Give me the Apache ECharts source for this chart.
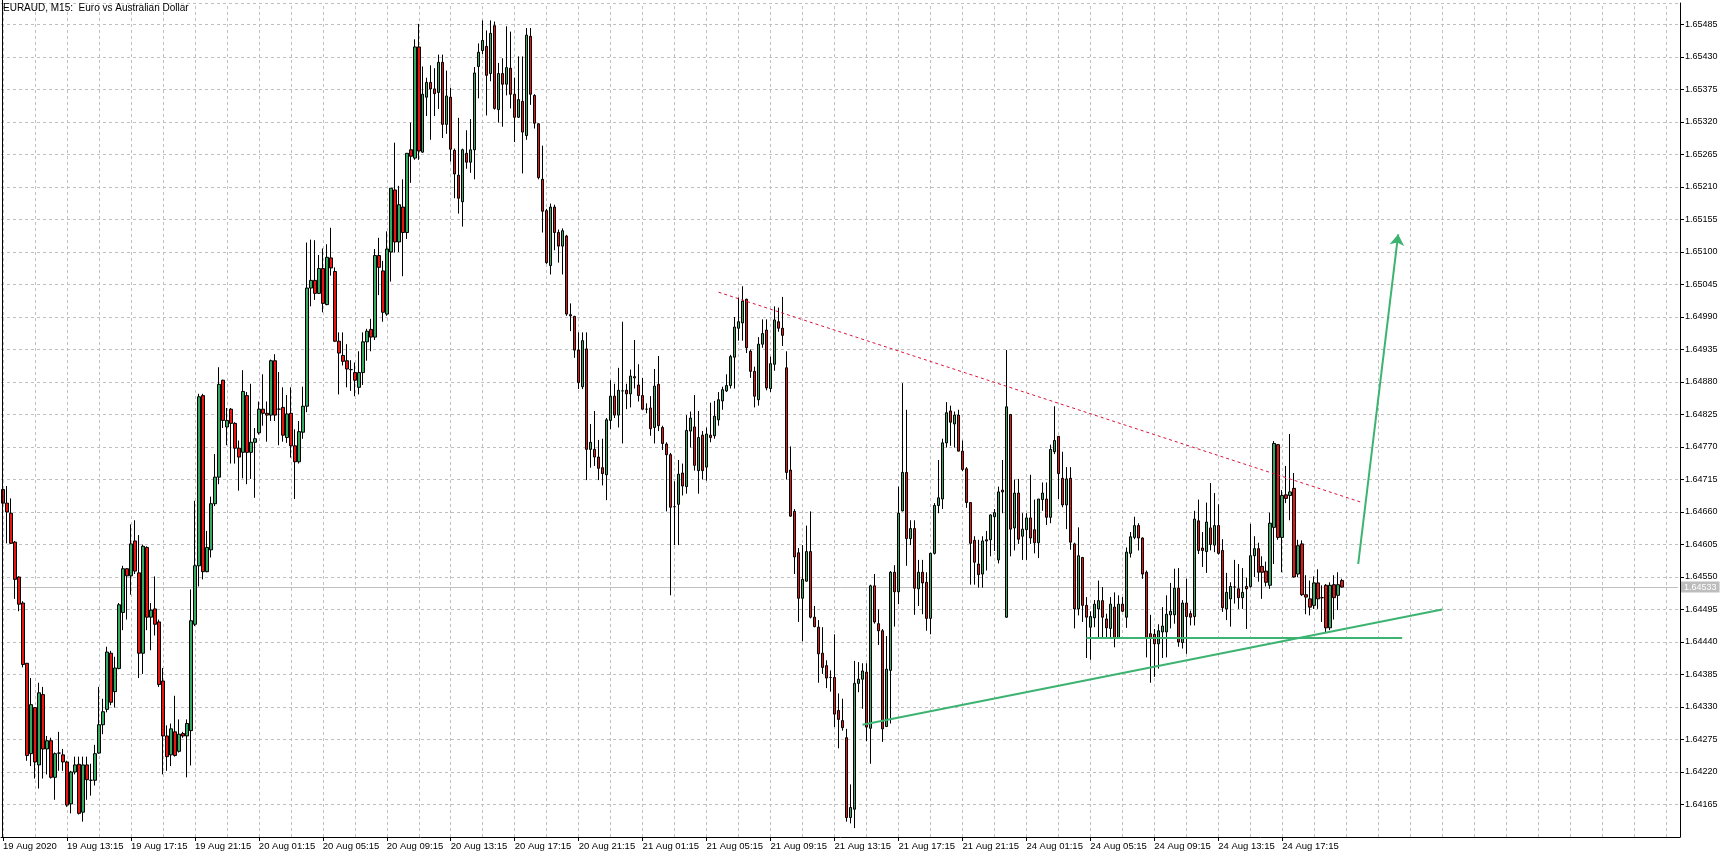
<!DOCTYPE html>
<html><head><meta charset="utf-8">
<script src="https://cdn.jsdelivr.net/npm/echarts@6/dist/echarts.min.js"></script>
<style>html,body{margin:0;padding:0;background:#fff;overflow:hidden}#c{width:1733px;height:858px}</style>
</head><body><div id="c"></div>
<script>
const opens = [
1.64698,1.64675,1.64658,1.64609,1.64550,1.64506,1.64404,1.64251,1.64329,1.64232,
1.64351,1.64259,1.64273,1.64211,1.64252,1.64249,1.64237,1.64166,1.64220,1.64233,
1.64152,1.64232,1.64206,1.64206,1.64252,1.64300,1.64326,1.64421,1.64356,1.64395,
1.64490,1.64564,1.64552,1.64611,1.64557,1.64421,1.64600,1.64482,1.64496,1.64474,
1.64374,1.64281,1.64249,1.64288,1.64255,1.64285,1.64281,1.64290,1.64470,1.64569,
1.64857,1.64559,1.64596,1.64674,1.64719,1.64883,1.64804,1.64834,1.64810,1.64768,
1.64761,1.64857,1.64761,1.64778,1.64794,1.64834,1.64827,1.64824,1.64916,1.64834,
1.64837,1.64786,1.64827,1.64772,1.64745,1.64795,1.64839,1.65039,1.65052,1.65030,
1.65072,1.65011,1.65090,1.65067,1.64949,1.64925,1.64916,1.64901,1.64896,1.64871,
1.64896,1.64948,1.64969,1.64956,1.65094,1.65068,1.64995,1.65100,1.65205,1.65117,
1.65176,1.65133,1.65273,1.65259,1.65447,1.65269,1.65362,1.65387,1.65376,1.65370,
1.65421,1.65316,1.65362,1.65272,1.65230,1.65185,1.65267,1.65252,1.65273,1.65414,
1.65441,1.65448,1.65402,1.65483,1.65341,1.65402,1.65384,1.65411,1.65367,1.65328,
1.65355,1.65297,1.65465,1.65365,1.65317,1.65223,1.65170,1.65077,1.65176,1.65133,
1.65110,1.65127,1.64994,1.64991,1.64934,1.64872,1.64936,1.64766,1.64766,1.64753,
1.64735,1.64723,1.64815,1.64856,1.64824,1.64865,1.64866,1.64860,1.64889,1.64875,
1.64857,1.64834,1.64836,1.64803,1.64876,1.64803,1.64775,1.64757,1.64669,1.64673,
1.64726,1.64703,1.64797,1.64804,1.64730,1.64790,1.64736,1.64790,1.64789,1.64816,
1.64848,1.64865,1.64874,1.64922,1.64971,1.64980,1.65020,1.64932,1.64898,1.64850,
1.64944,1.64968,1.64869,1.64910,1.64982,1.64971,1.64904,1.64731,1.64661,1.64591,
1.64514,1.64543,1.64593,1.64482,1.64465,1.64421,1.64400,1.64380,1.64380,1.64324,
1.64307,1.64278,1.64143,1.64157,1.64370,1.64377,1.64389,1.64294,1.64535,1.64471,
1.64459,1.64297,1.64392,1.64558,1.64525,1.64662,1.64727,1.64615,1.64632,1.64530,
1.64558,1.64541,1.64480,1.64590,1.64671,1.64682,1.64777,1.64831,1.64809,1.64824,
1.64763,1.64733,1.64676,1.64612,1.64572,1.64555,1.64611,1.64613,1.64652,1.64579,
1.64697,1.64482,1.64825,1.64633,1.64692,1.64619,1.64630,1.64650,1.64630,1.64608,
1.64681,1.64682,1.64651,1.64762,1.64788,1.64717,1.64672,1.64717,1.64606,1.64496,
1.64583,1.64502,1.64465,1.64481,1.64496,1.64510,1.64479,1.64463,1.64499,1.64447,
1.64504,1.64482,1.64590,1.64617,1.64637,1.64616,1.64558,1.64454,1.64453,1.64437,
1.64457,1.64457,1.64486,1.64486,1.64531,1.64439,1.64506,1.64488,1.64483,1.64645,
1.64599,1.64593,1.64633,1.64604,1.64637,1.64595,1.64496,1.64513,1.64533,1.64530,
1.64515,1.64534,1.64534,1.64586,1.64598,1.64568,1.64560,1.64536,1.64634,1.64774,
1.64617,1.64689,1.64688,1.64700,1.64555,1.64606,1.64520,1.64513,1.64502,1.64540,
1.64515,1.64536,1.64464,1.64537,1.64519,1.64544
];
const closes = [
1.64675,1.64660,1.64607,1.64546,1.64504,1.64402,1.64248,1.64334,1.64237,1.64354,
1.64259,1.64273,1.64211,1.64251,1.64252,1.64237,1.64164,1.64220,1.64232,1.64150,
1.64232,1.64207,1.64206,1.64251,1.64300,1.64322,1.64423,1.64338,1.64396,1.64503,
1.64564,1.64552,1.64606,1.64560,1.64421,1.64602,1.64482,1.64494,1.64470,1.64368,
1.64281,1.64246,1.64293,1.64248,1.64284,1.64281,1.64302,1.64476,1.64569,1.64855,
1.64559,1.64600,1.64674,1.64719,1.64876,1.64815,1.64815,1.64810,1.64768,1.64753,
1.64864,1.64761,1.64778,1.64784,1.64834,1.64827,1.64824,1.64916,1.64824,1.64834,
1.64790,1.64826,1.64772,1.64745,1.64796,1.64839,1.65039,1.65052,1.65030,1.65072,
1.65013,1.65091,1.65073,1.64949,1.64929,1.64915,1.64902,1.64901,1.64883,1.64896,
1.64948,1.64966,1.64956,1.65094,1.65074,1.64998,1.65105,1.65208,1.65117,1.65180,
1.65133,1.65267,1.65262,1.65447,1.65271,1.65367,1.65387,1.65376,1.65368,1.65421,
1.65316,1.65364,1.65274,1.65232,1.65191,1.65273,1.65252,1.65273,1.65403,1.65438,
1.65458,1.65399,1.65470,1.65343,1.65402,1.65384,1.65412,1.65367,1.65328,1.65358,
1.65303,1.65467,1.65367,1.65318,1.65226,1.65169,1.65082,1.65176,1.65133,1.65110,
1.65136,1.64995,1.64992,1.64934,1.64879,1.64950,1.64766,1.64778,1.64753,1.64734,
1.64725,1.64816,1.64856,1.64824,1.64866,1.64865,1.64860,1.64890,1.64887,1.64857,
1.64834,1.64834,1.64801,1.64873,1.64806,1.64776,1.64757,1.64668,1.64669,1.64724,
1.64704,1.64798,1.64819,1.64739,1.64786,1.64730,1.64792,1.64786,1.64822,1.64850,
1.64867,1.64874,1.64923,1.64973,1.64982,1.65017,1.64938,1.64898,1.64856,1.64944,
1.64962,1.64870,1.64911,1.64985,1.64971,1.64959,1.64727,1.64653,1.64584,1.64514,
1.64546,1.64593,1.64482,1.64466,1.64420,1.64397,1.64379,1.64380,1.64318,1.64309,
1.64295,1.64143,1.64160,1.64370,1.64377,1.64391,1.64296,1.64535,1.64474,1.64459,
1.64293,1.64394,1.64558,1.64525,1.64658,1.64727,1.64615,1.64632,1.64531,1.64558,
1.64540,1.64480,1.64590,1.64671,1.64684,1.64777,1.64828,1.64812,1.64824,1.64763,
1.64732,1.64676,1.64607,1.64575,1.64554,1.64611,1.64613,1.64655,1.64659,1.64694,
1.64694,1.64838,1.64631,1.64692,1.64614,1.64631,1.64650,1.64616,1.64608,1.64682,
1.64692,1.64651,1.64766,1.64781,1.64725,1.64672,1.64716,1.64609,1.64496,1.64586,
1.64502,1.64482,1.64483,1.64504,1.64510,1.64482,1.64464,1.64504,1.64447,1.64504,
1.64492,1.64592,1.64618,1.64637,1.64616,1.64555,1.64448,1.64447,1.64437,1.64459,
1.64467,1.64487,1.64492,1.64531,1.64440,1.64506,1.64483,1.64482,1.64648,1.64595,
1.64595,1.64643,1.64605,1.64637,1.64590,1.64498,1.64524,1.64534,1.64533,1.64515,
1.64524,1.64530,1.64586,1.64598,1.64558,1.64558,1.64541,1.64641,1.64776,1.64617,
1.64688,1.64683,1.64694,1.64550,1.64603,1.64520,1.64516,1.64499,1.64540,1.64513,
1.64515,1.64464,1.64536,1.64515,1.64537,1.64533
];
const lows = [
1.64670,1.64607,1.64606,1.64513,1.64492,1.64397,1.64239,1.64230,1.64209,1.64192,
1.64209,1.64216,1.64209,1.64173,1.64222,1.64222,1.64161,1.64150,1.64216,1.64148,
1.64136,1.64173,1.64180,1.64197,1.64251,1.64284,1.64321,1.64333,1.64329,1.64394,
1.64460,1.64478,1.64520,1.64555,1.64379,1.64386,1.64460,1.64426,1.64451,1.64364,
1.64216,1.64222,1.64230,1.64246,1.64253,1.64278,1.64211,1.64231,1.64467,1.64534,
1.64546,1.64558,1.64583,1.64670,1.64707,1.64802,1.64773,1.64742,1.64742,1.64696,
1.64717,1.64707,1.64716,1.64684,1.64791,1.64806,1.64779,1.64814,1.64814,1.64773,
1.64779,1.64777,1.64752,1.64682,1.64742,1.64784,1.64829,1.65008,1.65019,1.65029,
1.64998,1.65010,1.65060,1.64948,1.64859,1.64908,1.64871,1.64865,1.64856,1.64859,
1.64875,1.64916,1.64932,1.64951,1.65027,1.64982,1.64992,1.65050,1.65099,1.65100,
1.65059,1.65122,1.65217,1.65256,1.65256,1.65268,1.65330,1.65290,1.65330,1.65342,
1.65293,1.65300,1.65253,1.65191,1.65165,1.65143,1.65241,1.65234,1.65223,1.65360,
1.65435,1.65331,1.65389,1.65341,1.65319,1.65312,1.65365,1.65343,1.65286,1.65327,
1.65233,1.65290,1.65349,1.65309,1.65223,1.65133,1.65080,1.65062,1.65103,1.65082,
1.65062,1.64992,1.64966,1.64921,1.64868,1.64868,1.64714,1.64735,1.64738,1.64714,
1.64705,1.64680,1.64800,1.64819,1.64803,1.64776,1.64834,1.64837,1.64869,1.64847,
1.64833,1.64827,1.64789,1.64776,1.64797,1.64765,1.64661,1.64519,1.64604,1.64604,
1.64688,1.64691,1.64769,1.64730,1.64691,1.64715,1.64713,1.64778,1.64784,1.64806,
1.64833,1.64863,1.64869,1.64869,1.64950,1.64950,1.64929,1.64887,1.64837,1.64840,
1.64938,1.64866,1.64863,1.64899,1.64965,1.64941,1.64715,1.64652,1.64555,1.64474,
1.64441,1.64542,1.64480,1.64465,1.64371,1.64386,1.64362,1.64356,1.64296,1.64260,
1.64290,1.64136,1.64133,1.64125,1.64355,1.64327,1.64272,1.64234,1.64471,1.64435,
1.64271,1.64296,1.64302,1.64466,1.64504,1.64661,1.64569,1.64604,1.64486,1.64501,
1.64487,1.64459,1.64453,1.64588,1.64658,1.64665,1.64769,1.64772,1.64769,1.64763,
1.64729,1.64667,1.64537,1.64537,1.64532,1.64532,1.64561,1.64585,1.64594,1.64573,
1.64658,1.64481,1.64585,1.64595,1.64606,1.64579,1.64579,1.64606,1.64590,1.64582,
1.64662,1.64638,1.64641,1.64758,1.64682,1.64668,1.64631,1.64596,1.64463,1.64485,
1.64474,1.64413,1.64410,1.64465,1.64448,1.64448,1.64448,1.64446,1.64431,1.64446,
1.64491,1.64464,1.64583,1.64614,1.64595,1.64547,1.64414,1.64371,1.64381,1.64395,
1.64413,1.64414,1.64463,1.64471,1.64432,1.64429,1.64420,1.64468,1.64468,1.64589,
1.64567,1.64557,1.64595,1.64592,1.64588,1.64491,1.64477,1.64466,1.64505,1.64496,
1.64496,1.64462,1.64532,1.64550,1.64542,1.64513,1.64534,1.64530,1.64572,1.64613,
1.64558,1.64675,1.64646,1.64549,1.64550,1.64518,1.64487,1.64485,1.64496,1.64496,
1.64474,1.64457,1.64460,1.64478,1.64494,1.64532
];
const highs = [
1.64705,1.64704,1.64683,1.64611,1.64551,1.64509,1.64404,1.64379,1.64330,1.64371,
1.64364,1.64281,1.64278,1.64253,1.64288,1.64259,1.64239,1.64222,1.64246,1.64246,
1.64246,1.64246,1.64234,1.64266,1.64364,1.64344,1.64432,1.64425,1.64415,1.64506,
1.64569,1.64565,1.64639,1.64646,1.64621,1.64605,1.64602,1.64506,1.64551,1.64478,
1.64396,1.64299,1.64302,1.64349,1.64309,1.64288,1.64309,1.64529,1.64679,1.64860,
1.64860,1.64628,1.64686,1.64758,1.64905,1.64884,1.64836,1.64836,1.64812,1.64781,
1.64900,1.64863,1.64877,1.64802,1.64847,1.64893,1.64847,1.64918,1.64927,1.64897,
1.64871,1.64858,1.64871,1.64800,1.64814,1.64872,1.65116,1.65121,1.65120,1.65095,
1.65106,1.65113,1.65141,1.65074,1.64964,1.64964,1.64944,1.64917,1.64913,1.64932,
1.64964,1.64970,1.64987,1.65105,1.65124,1.65085,1.65135,1.65208,1.65285,1.65212,
1.65223,1.65267,1.65319,1.65460,1.65486,1.65414,1.65395,1.65416,1.65411,1.65434,
1.65434,1.65407,1.65378,1.65275,1.65327,1.65275,1.65306,1.65325,1.65413,1.65453,
1.65492,1.65475,1.65492,1.65490,1.65420,1.65428,1.65482,1.65473,1.65395,1.65431,
1.65431,1.65479,1.65479,1.65367,1.65318,1.65280,1.65173,1.65182,1.65180,1.65138,
1.65140,1.65129,1.65013,1.64992,1.64964,1.64964,1.64964,1.64809,1.64831,1.64782,
1.64784,1.64819,1.64883,1.64877,1.64904,1.64982,1.64877,1.64901,1.64951,1.64910,
1.64887,1.64844,1.64856,1.64902,1.64924,1.64806,1.64778,1.64760,1.64712,1.64748,
1.64742,1.64824,1.64830,1.64858,1.64831,1.64797,1.64803,1.64845,1.64848,1.64863,
1.64872,1.64893,1.64926,1.64990,1.65023,1.65042,1.65021,1.64935,1.64906,1.64956,
1.64986,1.64986,1.64923,1.65008,1.65006,1.65024,1.64932,1.64771,1.64665,1.64599,
1.64604,1.64637,1.64661,1.64501,1.64477,1.64465,1.64409,1.64392,1.64453,1.64353,
1.64344,1.64293,1.64199,1.64408,1.64406,1.64404,1.64404,1.64537,1.64555,1.64495,
1.64462,1.64450,1.64560,1.64570,1.64703,1.64878,1.64833,1.64646,1.64646,1.64579,
1.64579,1.64558,1.64591,1.64675,1.64748,1.64784,1.64846,1.64840,1.64830,1.64833,
1.64781,1.64736,1.64676,1.64619,1.64613,1.64619,1.64628,1.64656,1.64665,1.64703,
1.64748,1.64934,1.64826,1.64715,1.64716,1.64658,1.64658,1.64723,1.64681,1.64682,
1.64710,1.64710,1.64774,1.64839,1.64788,1.64762,1.64736,1.64736,1.64608,1.64634,
1.64584,1.64516,1.64492,1.64511,1.64544,1.64533,1.64488,1.64516,1.64524,1.64519,
1.64516,1.64600,1.64626,1.64652,1.64641,1.64617,1.64561,1.64486,1.64462,1.64470,
1.64499,1.64519,1.64540,1.64564,1.64565,1.64511,1.64547,1.64493,1.64662,1.64681,
1.64626,1.64676,1.64709,1.64692,1.64673,1.64614,1.64557,1.64541,1.64579,1.64572,
1.64565,1.64549,1.64640,1.64619,1.64608,1.64585,1.64576,1.64659,1.64780,1.64775,
1.64697,1.64738,1.64792,1.64726,1.64613,1.64612,1.64553,1.64544,1.64551,1.64563,
1.64536,1.64538,1.64541,1.64553,1.64558,1.64547
];
const tickLabels = ['19 Aug 2020','19 Aug 13:15','19 Aug 17:15','19 Aug 21:15','20 Aug 01:15','20 Aug 05:15',
  '20 Aug 09:15','20 Aug 13:15','20 Aug 17:15','20 Aug 21:15','21 Aug 01:15','21 Aug 05:15','21 Aug 09:15',
  '21 Aug 13:15','21 Aug 17:15','21 Aug 21:15','24 Aug 01:15','24 Aug 05:15','24 Aug 09:15','24 Aug 13:15','24 Aug 17:15'];
const lastPrice = 1.64533;
const resistanceLine = [[179, 1.65032], [340, 1.64676]];
const supportLevel = [[271, 1.64447], [350, 1.64447]];
const risingSupport = [[215, 1.64300], [360, 1.64495]];
const targetArrow = [[339, 1.64572], [349, 1.65130]];

const totalSlots = 420;   // bars + empty chart shift area
const barsPerLabel = 16;
const barsPerGrid = 8;
const months = ['Jan','Feb','Mar','Apr','May','Jun','Jul','Aug','Sep','Oct','Nov','Dec'];
const pad = n => (n < 10 ? '0' : '') + n;
const categories = [];
let t = Date.UTC(2020, 7, 19, 9, 15);
for (let i = 0; i < totalSlots; i++) {
  const d = new Date(t);
  categories.push(pad(d.getUTCDate()) + ' ' + months[d.getUTCMonth()] + ' ' + pad(d.getUTCHours()) + ':' + pad(d.getUTCMinutes()));
  t += 15 * 60000;
  if (new Date(t).getUTCDay() === 6) t += 2 * 86400000;
}
const candleData = opens.map((o, i) => [o, closes[i], lows[i], highs[i]]);
const gridIdx = [];
for (let i = 0; i < totalSlots; i += barsPerGrid) gridIdx.push(i);
const isLabelIdx = idx => idx % barsPerLabel === 0 && idx / barsPerLabel < tickLabels.length;

const FONT = 'Liberation Sans, Arial, sans-serif';
const chart = echarts.init(document.getElementById('c'), null, {renderer: 'canvas'});
chart.setOption({
  animation: false,
  backgroundColor: '#ffffff',
  title: {
    text: 'EURAUD, M15:  Euro vs Australian Dollar',
    left: 3, top: 3, padding: 0,
    textStyle: {fontSize: 10, fontWeight: 'normal', color: '#000', fontFamily: FONT}
  },
  grid: {left: 0, right: 53, top: 3, bottom: 21, containLabel: false},
  xAxis: {
    type: 'category', data: categories, boundaryGap: true,
    axisLine: {show: true, lineStyle: {color: '#000', width: 1}},
    axisTick: {show: true, alignWithLabel: true, length: 4, interval: (idx) => isLabelIdx(idx), lineStyle: {color: '#000'}},
    axisLabel: {
      interval: (idx) => isLabelIdx(idx),
      formatter: (v, idx) => isLabelIdx(idx) ? tickLabels[idx / barsPerLabel] : '',
      align: 'left', margin: 4, fontSize: 9.5, color: '#000', fontFamily: FONT
    },
    splitLine: {show: false}
  },
  yAxis: {
    type: 'value', position: 'right',
    min: 1.64110, max: 1.655214, interval: 0.00055,
    axisLine: {show: true, lineStyle: {color: '#000', width: 1}},
    axisTick: {show: true, length: 4, lineStyle: {color: '#000'}},
    axisLabel: {formatter: v => v.toFixed(5), fontSize: 9, color: '#000', margin: 5, fontFamily: FONT,
      showMinLabel: false, showMaxLabel: false},
    splitLine: {show: true, lineStyle: {color: '#c0c0c0', type: [3, 3], width: 1}}
  },
  graphic: [{type: 'line', shape: {x1: 2.5, y1: 0, x2: 2.5, y2: 837}, style: {stroke: '#000', lineWidth: 1}, z: 10, silent: true}],
  series: [
    {
      type: 'line', data: [], silent: true, z: 1,
      markLine: {
        silent: true, z: 1, symbol: ['none', 'none'], label: {show: false}, emphasis: {disabled: true},
        lineStyle: {color: '#c0c0c0', type: [3, 3], width: 1},
        data: gridIdx.map(i => ({xAxis: i}))
      }
    },
    {
      type: 'line', data: [], silent: true, z: 1,
      markLine: {
        silent: true, z: 1, symbol: ['none', 'none'], emphasis: {disabled: true},
        lineStyle: {color: '#c0c0c0', type: 'solid', width: 1},
        label: {show: true, position: 'end', distance: 3, formatter: lastPrice.toFixed(5),
          backgroundColor: '#bdbdbd', color: '#ffffff', padding: [1, 3, 0, 3], fontSize: 9, lineHeight: 10, fontFamily: FONT},
        data: [[{coord: [0, lastPrice]}, {coord: [totalSlots - 1, lastPrice]}]]
      }
    },
    {
      type: 'candlestick', data: candleData, barWidth: 3, z: 2,
      itemStyle: {color: '#35a862', color0: '#e8140f', borderColor: '#000', borderColor0: '#000', borderColorDoji: '#000', borderWidth: 1}
    },
    {
      type: 'line', data: [], silent: true, z: 6,
      markLine: {
        silent: true, z: 6, symbol: ['none', 'none'], label: {show: false}, emphasis: {disabled: true},
        lineStyle: {color: '#dc143c', type: [3, 3], width: 1},
        data: [[{coord: resistanceLine[0]}, {coord: resistanceLine[1]}]]
      }
    },
    {
      type: 'line', data: [], silent: true, z: 6,
      markLine: {
        silent: true, z: 6, symbol: ['none', 'none'], label: {show: false}, emphasis: {disabled: true},
        lineStyle: {color: '#3cb371', type: 'solid', width: 2},
        data: [[{coord: supportLevel[0]}, {coord: supportLevel[1]}], [{coord: risingSupport[0]}, {coord: risingSupport[1]}]]
      }
    },
    {
      type: 'line', data: [], silent: true, z: 6,
      markLine: {
        silent: true, z: 6, symbol: ['none', 'arrow'], symbolSize: 11, label: {show: false}, emphasis: {disabled: true},
        lineStyle: {color: '#3cb371', type: 'solid', width: 2},
        itemStyle: {color: '#3cb371'},
        data: [[{coord: targetArrow[0], symbol: 'none'}, {coord: targetArrow[1], symbol: 'arrow', symbolSize: 11}]]
      }
    }
  ]
});
</script>
</body></html>
